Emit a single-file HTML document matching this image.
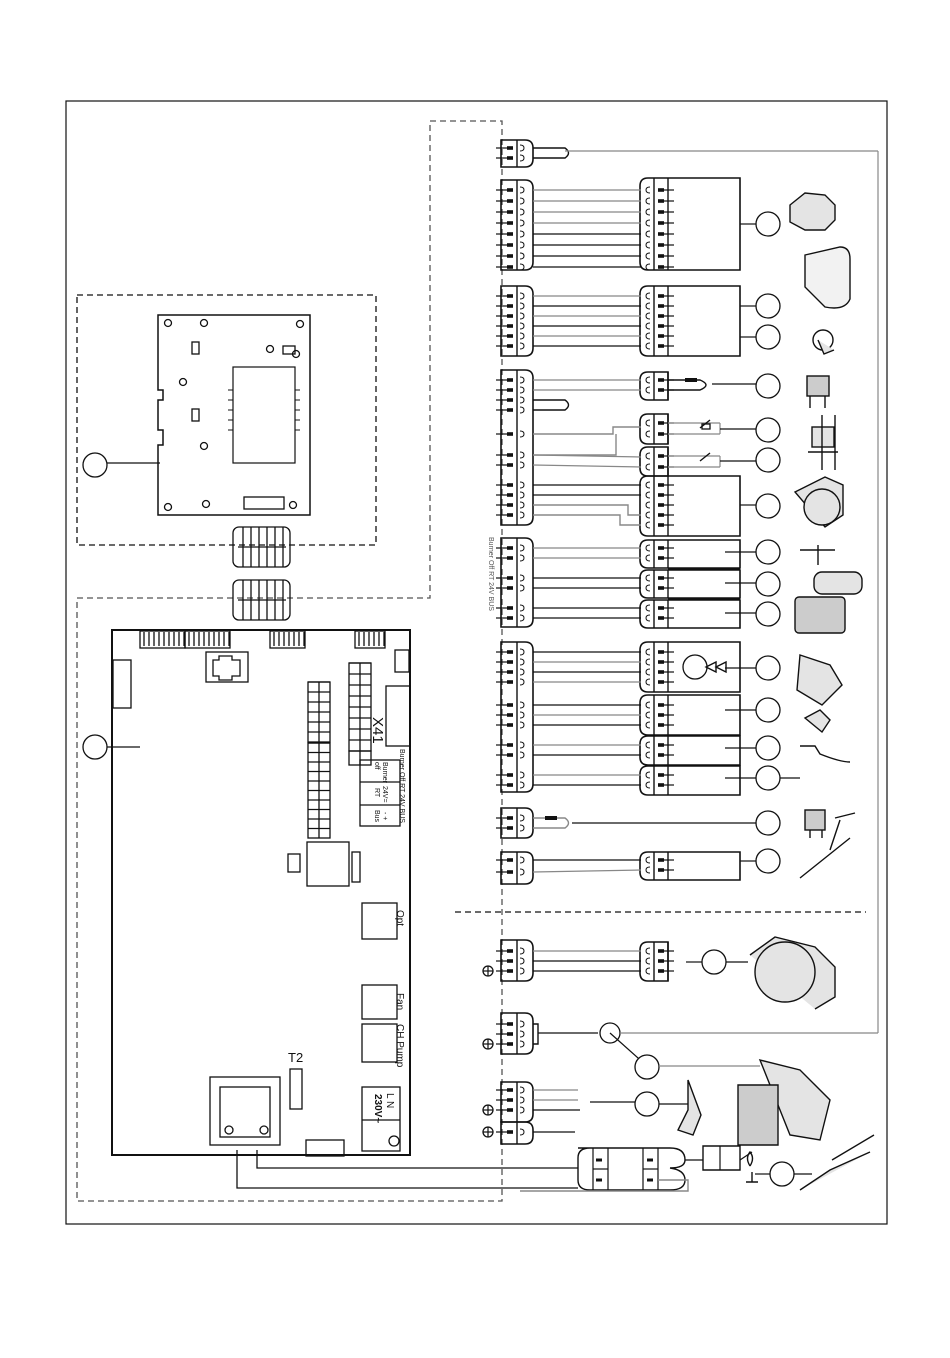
<!DOCTYPE html>
<html><head><meta charset="utf-8"><style>
html,body{margin:0;padding:0;background:#fff;}
svg{display:block;font-family:"Liberation Sans",sans-serif;}
</style></head><body>
<svg id="s" width="950" height="1358" viewBox="0 0 950 1358" xmlns="http://www.w3.org/2000/svg" fill="none" stroke="#111" stroke-width="1.3">
<rect x="66" y="101" width="821" height="1123" stroke-width="1.2"/>
<rect x="77" y="295" width="299" height="250" stroke-dasharray="6,4"/>
<path d="M77 598 H430 V121 H502 V1201 H77 Z" stroke-dasharray="6,4" stroke="#555"/>
<line x1="455" y1="912" x2="866" y2="912" stroke-dasharray="6,4"/>
<!-- display pcb -->
<path d="M158 315 H310 V515 H158 V445 H163 V430 H158 V400 H163 V390 H158 Z" stroke-width="1.5"/>
<rect x="233" y="367" width="62" height="96" stroke-width="1.2"/>
<g stroke-width="1">
<line x1="228" y1="390" x2="233" y2="390"/><line x1="228" y1="400" x2="233" y2="400"/><line x1="228" y1="410" x2="233" y2="410"/><line x1="228" y1="420" x2="233" y2="420"/><line x1="228" y1="430" x2="233" y2="430"/>
<line x1="295" y1="390" x2="300" y2="390"/><line x1="295" y1="400" x2="300" y2="400"/><line x1="295" y1="410" x2="300" y2="410"/><line x1="295" y1="420" x2="300" y2="420"/><line x1="295" y1="430" x2="300" y2="430"/>
</g>
<circle cx="168" cy="323" r="3.5"/><circle cx="204" cy="323" r="3.5"/><circle cx="300" cy="324" r="3.5"/>
<circle cx="183" cy="382" r="3.5"/><circle cx="296" cy="354" r="3.5"/><circle cx="270" cy="349" r="3.5"/>
<circle cx="204" cy="446" r="3.5"/><circle cx="168" cy="507" r="3.5"/><circle cx="206" cy="504" r="3.5"/><circle cx="293" cy="505" r="3.5"/>
<rect x="192" y="342" width="7" height="12"/><rect x="283" y="346" width="12" height="8"/><rect x="192" y="409" width="7" height="12"/>
<rect x="244" y="497" width="40" height="12"/>
<circle cx="95" cy="465" r="12"/><line x1="107" y1="463" x2="160" y2="463"/>
<!-- ribbon connectors -->
<rect x="233" y="527" width="57" height="40" rx="6"/><rect x="233" y="580" width="57" height="40" rx="6"/>
<g id="rib"></g>
<!-- main pcb -->
<path d="M112 630 H410 V1155 H112 Z" stroke-width="2"/>
<rect x="206" y="652" width="42" height="30"/>
<path d="M213 660 h6 v-4 h13 v4 h8 v16 h-8 v4 h-13 v-4 h-6 Z"/>
<rect x="113" y="660" width="18" height="48"/>
<rect x="395" y="650" width="14" height="22"/>
<rect x="386" y="686" width="24" height="60"/>
<rect x="349" y="663" width="22" height="88"/><rect x="349" y="751" width="22" height="14"/>
<rect x="308" y="682" width="22" height="60"/><rect x="308" y="743" width="22" height="95"/>
<g id="grid"></g>
<text x="373" y="717" font-size="15" fill="#111" stroke="none" transform="rotate(90 373 717)">X41</text>
<rect x="360" y="760" width="40" height="66"/>
<line x1="360" y1="782" x2="400" y2="782"/><line x1="360" y1="805" x2="400" y2="805"/>
<g font-size="7" fill="#111" stroke="none">
<text x="400" y="749" transform="rotate(90 400 749)">Burner Off  RT 24V  BUS</text>
<text x="383" y="762" transform="rotate(90 383 762)">Burner</text>
<text x="375" y="762" transform="rotate(90 375 762)">off</text>
<text x="383" y="786" transform="rotate(90 383 786)">24V=</text>
<text x="375" y="788" transform="rotate(90 375 788)">RT</text>
<text x="375" y="810" transform="rotate(90 375 810)">Bus</text>
<text x="383" y="812" transform="rotate(90 383 812)">- +</text>
<text x="489" y="537" fill="#555" transform="rotate(90 489 537)">Burner Off  RT  24V      BUS</text>
</g>
<rect x="307" y="842" width="42" height="44"/><rect x="352" y="852" width="8" height="30"/><rect x="288" y="854" width="12" height="18"/>
<rect x="362" y="903" width="35" height="36"/><text x="397" y="910" font-size="10" fill="#111" stroke="none" transform="rotate(90 397 910)">Opt</text>
<rect x="362" y="985" width="35" height="34"/><text x="397" y="993" font-size="10" fill="#111" stroke="none" transform="rotate(90 397 993)">Fan</text>
<rect x="362" y="1024" width="35" height="38"/><text x="397" y="1024" font-size="10" fill="#111" stroke="none" transform="rotate(90 397 1024)">CH Pump</text>
<rect x="362" y="1087" width="38" height="64"/><line x1="362" y1="1120" x2="400" y2="1120"/>
<text x="387" y="1093" font-size="10" fill="#111" stroke="none" transform="rotate(90 387 1093)">L  N</text>
<text x="375" y="1094" font-size="10" font-weight="bold" fill="#111" stroke="none" transform="rotate(90 375 1094)">230V~</text>
<circle cx="394" cy="1141" r="5"/>
<text x="288" y="1062" font-size="13" fill="#111" stroke="none">T2</text>
<rect x="290" y="1069" width="12" height="40"/>
<rect x="210" y="1077" width="70" height="68"/><rect x="220" y="1087" width="50" height="50"/>
<circle cx="229" cy="1130" r="4"/><circle cx="264" cy="1130" r="4"/>
<rect x="306" y="1140" width="38" height="16"/>
<circle cx="95" cy="747" r="12"/><line x1="107" y1="747" x2="140" y2="747"/>
<path d="M237 1150 V1188 H578"/><path d="M257 1150 V1168 H578"/>
<g id="g"></g>
<!-- components sketches -->
<g stroke-width="1.4" fill="#e4e4e4">
<path d="M790 205 l15-12 l20 2 l10 10 v15 l-10 10 h-20 l-15-8 Z"/>
<path d="M805 255 l35 -8 q10 0 10 12 v40 q-5 12 -25 8 l-20 -20 Z" fill="#f2f2f2"/>
<circle cx="823" cy="340" r="10" fill="#fff"/><path d="M818 340 l6 14 l10 -4"/>
<rect x="807" y="376" width="22" height="20" fill="#ccc"/><path d="M810 396 v12 M825 396 v12"/>
<rect x="812" y="427" width="22" height="20"/><path d="M808 452 h30 M822 415 v55 M835 415 v55"/>
<path d="M795 492 l30 -15 l18 8 v30 l-18 12 Z"/><circle cx="822" cy="507" r="18"/>
<path d="M800 550 h35 M818 545 v20"/><rect x="814" y="572" width="48" height="22" rx="8"/>
<rect x="795" y="597" width="50" height="36" rx="4" fill="#ccc"/>
<path d="M800 655 l30 10 l12 20 l-20 20 l-25 -15 Z"/>
<path d="M805 718 l15 -8 l10 10 l-8 12 Z"/>
<path d="M800 746 h15 l5 8 q20 8 30 8" fill="none"/>
<rect x="805" y="810" width="20" height="20" fill="#ccc"/><path d="M810 830 v8 M822 830 v8"/>
<path d="M800 878 l50 -40 M830 850 l10 -30 M835 818 l20 -5"/>
<path d="M750 955 l25 -18 l40 10 l20 20 v30 l-20 12"/><circle cx="785" cy="972" r="30"/>
<path d="M760 1060 l40 10 l30 30 l-10 40 l-30 -5 Z"/><path d="M738 1085 h40 v60 h-40 Z" fill="#ccc"/>
<path d="M688 1080 v30 l-10 20 l15 5 l8 -20 Z"/>
<path d="M832 1160 l42 -25 M800 1190 l30 -20 l40 -18"/>
</g>
</svg>
<script>
let h='';
function L(x1,y1,x2,y2,c,w){h+=`<line x1="${x1}" y1="${y1}" x2="${x2}" y2="${y2}" stroke="${c||'#111'}" stroke-width="${w||1.2}"/>`;}
function P(d,c,w){h+=`<path d="${d}" stroke="${c||'#111'}" stroke-width="${w||1.4}"/>`;}
function Ci(x,y,r){h+=`<circle cx="${x}" cy="${y}" r="${r||12}" fill="#fff"/>`;}
function left(y0,y1,pins){
  P(`M501 ${y0} H525 Q533 ${y0} 533 ${y0+8} V${y1-8} Q533 ${y1} 525 ${y1} H501 Z`,'#111',1.6);
  L(517,y0,517,y1,'#111',1.4);
  pins.forEach(y=>{L(496,y,507,y);h+=`<rect x="507" y="${y-1.8}" width="6" height="3.6" fill="#111" stroke="none"/>`;P(`M520 ${y-3} q4 0 4 3 q0 3 -4 3`,'#111',1);});
}
function right(y0,y1,pins,box){
  P(`M668 ${y0} H648 Q640 ${y0} 640 ${y0+8} V${y1-8} Q640 ${y1} 648 ${y1} H668 ${box?'H740 V'+y0+' H668':'Z'}`,'#111',1.6);
  L(654,y0,654,y1,'#111',1.4);L(668,y0,668,y1,'#111',1.4);
  pins.forEach(y=>{h+=`<rect x="658" y="${y-1.8}" width="6" height="3.6" fill="#111" stroke="none"/>`;L(664,y,674,y);P(`M650 ${y-3} q-4 0 -4 3 q0 3 4 3`,'#111',1);});
}
function seq(a,n,p){let r=[];for(let i=0;i<n;i++)r.push(a+i*p);return r;}
const G='#888';
left(140,167,[148,158]);P('M533 148 H565 Q572 153 565 158 H533');L(565,151,878,151,G);
let p1=seq(190,8,11);left(180,270,p1);right(178,270,p1,true);p1.forEach((y,i)=>L(533,y,641,y,i<4?G:'#111'));
L(740,224,756,224);Ci(768,224);
let p2=seq(296,6,10);left(286,356,p2);right(286,356,p2,true);p2.forEach((y,i)=>L(533,y,641,y,i%2?'#111':G));
L(740,306,756,306);Ci(768,306);L(740,337,756,337);Ci(768,337);
let p3=[380,390,400,410,434,455,465,485,495,505,515];left(370,525,p3);
right(372,400,[380,390],false);L(533,380,641,380,G);L(533,390,641,390,G);
P('M668 380 H700 Q712 385 700 390 H668');h+='<rect x="685" y="378" width="12" height="4" fill="#111" stroke="none"/>';L(712,384,756,384);Ci(768,386);
P('M533 400 H565 Q572 405 565 410 H533');
right(414,444,[423,434],false);right(447,476,[456,467],false);
P('M533 434 H613 V427 H641',G);P('M533 455 H616 V434',G);L(533,455,641,457,G);L(533,465,641,467,G);
L(668,423,720,423,G);L(668,434,720,434,G);L(720,423,720,434,G);P('M700 428 l10 -8');h+='<rect x="702" y="424" width="8" height="5"/>';L(720,429,756,429);Ci(768,430);
L(668,456,720,456,G);L(668,467,720,467,G);L(720,456,720,467,G);P('M700 461 l10 -8');L(720,461,756,461);Ci(768,460);
let p4=[485,495,505,515,525];right(476,536,p4,true);
L(533,485,641,485);L(533,495,641,495);P('M533 505 H628 V515 H641',G);P('M533 515 H620 V525 H641',G);
L(740,505,756,505);Ci(768,506);
let pb=[548,558,578,588,608,618];left(538,627,pb);
right(540,568,[548,558],true);right(570,598,[578,588],true);right(600,628,[608,618],true);
pb.forEach((y,i)=>L(533,y,641,y,i<2?G:'#111'));
L(668,569,740,569,'#111',3);L(668,599,740,599,'#111',3);
[[552,552],[583,584],[613,614]].forEach(a=>{L(725,a[0],756,a[0]);Ci(768,a[1]);});
let p5=[652,662,672,682,705,715,725,745,755,775,785];left(642,792,p5);
right(642,692,[652,662,672,682],true);Ci(695,667,12);P('M716 662 l-10 5 l10 5 Z');P('M726 662 l-10 5 l10 5 Z');
right(695,735,[705,715,725],true);right(736,765,[745,755],true);right(766,795,[775,785],true);
p5.forEach((y,i)=>L(533,y,641,y,(i%2)?G:'#111'));
[[668],[710],[748],[778]].forEach(a=>{L(725,a[0],756,a[0]);Ci(768,a[0]);});
L(780,778,800,778);
left(808,838,[818,828]);P('M533 818 H565 Q572 823 565 828 H533',G);h+='<rect x="545" y="816" width="12" height="4" fill="#111" stroke="none"/>';L(572,823,756,823);Ci(768,823);
left(852,884,[860,872]);right(852,880,[860,870],true);L(533,860,641,860);L(533,872,641,870,G);L(740,861,756,861);Ci(768,861);
let p8=[951,961,971];left(940,981,p8);right(942,981,p8,false);p8.forEach((y,i)=>L(533,y,641,y,i?'#111':G));
L(686,962,702,962);Ci(714,962);L(726,962,748,962);
let p9=[1024,1034,1044];left(1013,1054,p9);P('M533 1024 H538 V1044 H533');L(538,1033,598,1033);Ci(610,1033,10);L(620,1033,878,1033,G);L(878,151,878,1033,G);
L(610,1033,647,1066);Ci(647,1067);L(659,1066,760,1066,G);
let pa=[1090,1100,1110];left(1082,1122,pa);L(533,1090,578,1090,G);L(533,1100,578,1100,G);L(533,1110,580,1110);
L(590,1102,635,1102);Ci(647,1104);L(659,1104,688,1104);
left(1122,1144,[1132]);L(533,1132,575,1132);
[971,1044,1110,1132].forEach(y=>{h+=`<circle cx="488" cy="${y}" r="5"/>`;L(483,y,493,y);L(488,y-5,488,y+5);});
P('M578 1148 H670 Q685 1148 685 1160 Q685 1168 670 1168 Q685 1170 685 1180 Q685 1190 670 1190 H590 Q578 1190 578 1180 V1158 Q578 1148 590 1148');
L(593,1148,593,1190);L(608,1148,608,1190);L(593,1169,608,1169);L(643,1148,643,1190);L(658,1148,658,1190);L(643,1169,658,1169);
[1160,1180].forEach(y=>{h+=`<rect x="596" y="${y-1.5}" width="6" height="3" fill="#111" stroke="none"/><rect x="647" y="${y-1.5}" width="6" height="3" fill="#111" stroke="none"/>`;});
P('M658 1180 H688 V1191 H520',G);
P('M703 1146 H740 V1170 H703 Z');L(720,1146,720,1170);L(685,1160,703,1160);L(740,1160,752,1152);
L(755,1174,770,1174);Ci(782,1174);L(794,1174,812,1174);
P('M750 1166 q-5 -8 0 -14 q5 6 0 14 M752 1172 v10 M746 1182 h12');
document.getElementById('g').innerHTML=h;
let r='';for(let i=0;i<6;i++){let x=243+i*8;r+=`<line x1="${x}" y1="527" x2="${x}" y2="567"/><line x1="${x}" y1="580" x2="${x}" y2="620"/>`;}
r+='<line x1="238" y1="547" x2="286" y2="547"/><line x1="238" y1="600" x2="286" y2="600"/>';
document.getElementById('rib').innerHTML=r;
let q='';for(let i=0;i<8;i++){q+=`<line x1="349" y1="${663+i*11}" x2="371" y2="${663+i*11}"/>`;}
q+='<line x1="360" y1="663" x2="360" y2="765"/><line x1="319" y1="682" x2="319" y2="838"/>';
for(let i=0;i<6;i++)q+=`<line x1="308" y1="${682+i*10}" x2="330" y2="${682+i*10}"/>`;
for(let i=0;i<10;i++)q+=`<line x1="308" y1="${743+i*9.5}" x2="330" y2="${743+i*9.5}"/>`;
[[140,640,45],[185,640,45],[270,640,35],[355,640,30]].forEach(a=>{q+=`<rect x="${a[0]}" y="631" width="${a[2]}" height="17"/>`;for(let k=4;k<a[2];k+=5)q+=`<line x1="${a[0]+k}" y1="632" x2="${a[0]+k}" y2="646"/>`;});
document.getElementById('grid').innerHTML=q;
</script>
</body></html>
